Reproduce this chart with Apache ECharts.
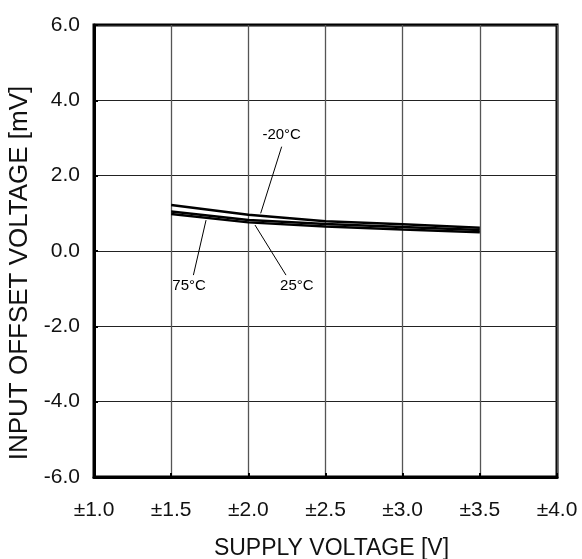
<!DOCTYPE html>
<html>
<head>
<meta charset="utf-8">
<script src="https://cdn.jsdelivr.net/npm/echarts@6/dist/echarts.min.js"></script>
<style>html,body{margin:0;padding:0;background:#fff}#c{width:582px;height:559px}</style>
</head>
<body>
<div id="c"></div>
<script>
const supplyV = [1.5, 2.0, 2.5, 3.0, 3.5];
const offsetM20 = [1.22, 0.96, 0.79, 0.71, 0.62];
const offset25 = [1.05, 0.82, 0.72, 0.64, 0.56];
const offset75 = [0.98, 0.76, 0.65, 0.57, 0.50];
const seriesNames = ['-20°C', '25°C', '75°C'];
// annotation label anchor + leader line endpoints, in data units
const labelPos = { '-20°C': [2.216, 3.08], '25°C': [2.314, -0.92], '75°C': [1.616, -0.92] };
const leaderFrom = { '-20°C': [2.216, 2.77], '25°C': [2.244, -0.64], '75°C': [1.644, -0.64] };
const leaderTo = { '-20°C': [2.08, 1.0], '25°C': [2.043, 0.69], '75°C': [1.726, 0.82] };

const FONT = "'Liberation Sans', Arial, sans-serif";
const chart = echarts.init(document.getElementById('c'));
const valuesByName = { '-20°C': offsetM20, '25°C': offset25, '75°C': offset75 };

const series = seriesNames.map(n => ({
  name: n,
  type: 'line',
  data: supplyV.map((x, i) => [x, valuesByName[n][i]]),
  showSymbol: false,
  symbol: 'none',
  lineStyle: { color: '#000', width: 2.5 },
  animation: false,
  markLine: {
    silent: true, symbol: 'none', animation: false,
    lineStyle: { color: '#000', width: 1, type: 'solid' },
    label: { show: false },
    data: [[{ coord: leaderFrom[n] }, { coord: leaderTo[n] }]]
  },
  markPoint: {
    silent: true, symbol: 'circle', symbolSize: 0, animation: false,
    label: { show: true, position: 'inside', formatter: n, color: '#000', fontSize: 15, fontFamily: FONT },
    data: [{ coord: labelPos[n] }]
  }
}));

chart.setOption({
  backgroundColor: '#fff',
  animation: false,
  grid: { left: 94, right: 25, top: 25, bottom: 82, outerBoundsMode: 'none', containLabel: false,
          show: true, borderColor: '#000', borderWidth: 3 },
  xAxis: {
    type: 'value', min: 1, max: 4, interval: 0.5,
    name: 'SUPPLY VOLTAGE [V]', nameLocation: 'middle', nameGap: 60,
    nameTextStyle: { fontSize: 23, color: '#111', fontFamily: FONT, padding: [0, 0, 0, 12] },
    axisLine: { show: true, onZero: false, lineStyle: { color: '#000', width: 3 } },
    axisTick: { show: true, inside: true, length: 4, lineStyle: { color: '#000', width: 2 } },
    axisLabel: { margin: 23, fontSize: 21, color: '#111', fontFamily: FONT,
                 formatter: v => '±' + v.toFixed(1) },
    splitLine: { show: true, lineStyle: { color: '#555', width: 1.3 } }
  },
  yAxis: {
    type: 'value', min: -6, max: 6, interval: 2,
    name: 'INPUT OFFSET VOLTAGE [mV]', nameLocation: 'middle', nameGap: 56,
    nameTextStyle: { fontSize: 26, color: '#111', fontFamily: FONT, padding: [0, 44, 0, 0] },
    axisLine: { show: true, onZero: false, lineStyle: { color: '#000', width: 3 } },
    axisTick: { show: true, inside: true, length: 4, lineStyle: { color: '#000', width: 2 } },
    axisLabel: { margin: 14, fontSize: 21, color: '#111', fontFamily: FONT,
                 formatter: v => v.toFixed(1) },
    splitLine: { show: true, lineStyle: { color: '#222', width: 1 } }
  },
  series: series
});
</script>
</body>
</html>
